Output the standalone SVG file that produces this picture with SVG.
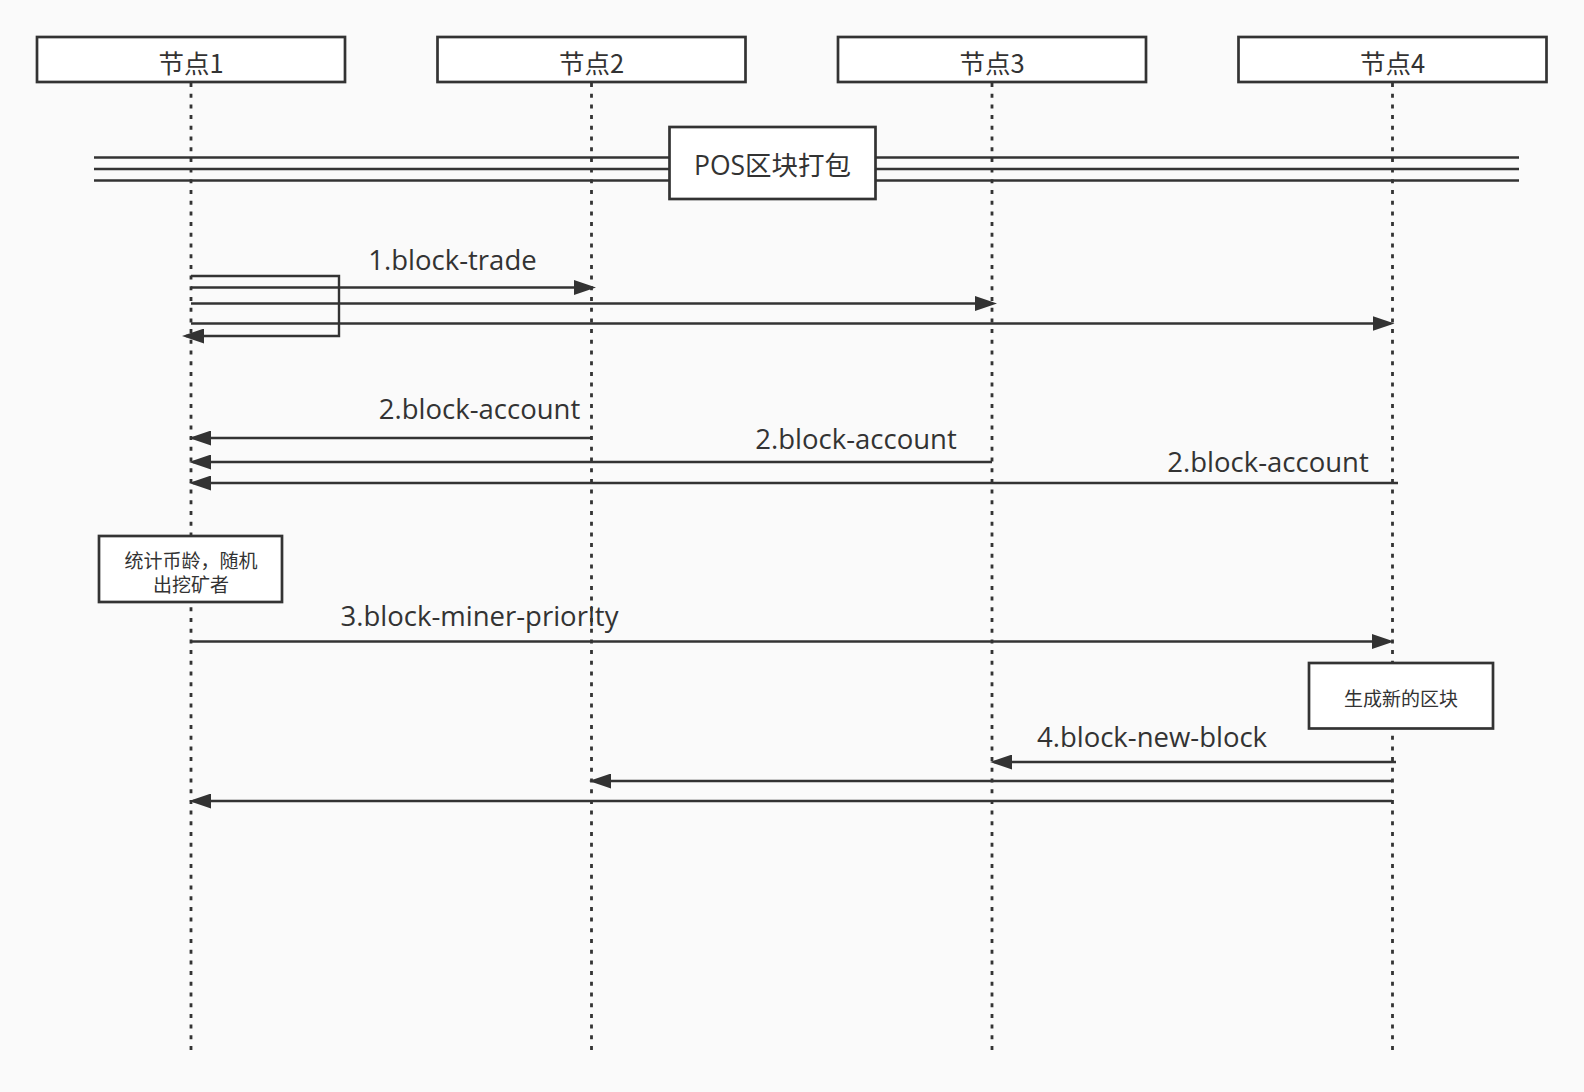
<svg xmlns="http://www.w3.org/2000/svg" width="1584" height="1092" viewBox="0 0 1584 1092">
  <defs>
    <style>
      .bg { fill: #fafafa; }
      .box { fill: #ffffff; stroke: #333333; stroke-width: 2.7; }
      .life { stroke: #333333; stroke-width: 2.8; stroke-dasharray: 4 6.7; fill: none; }
      .bar { stroke: #333333; stroke-width: 2.4; fill: none; }
      .msg { stroke: #333333; stroke-width: 2.4; fill: none; marker-end: url(#head); }
      .head-txt { font-family: "Noto Sans CJK SC", "Open Sans", sans-serif; font-size: 25.5px; fill: #333333; text-anchor: middle; }
      .title-txt { font-family: "Open Sans", "Noto Sans CJK SC", sans-serif; font-size: 26.5px; fill: #333333; text-anchor: middle; }
      .lbl { font-family: "Open Sans", "Noto Sans CJK SC", sans-serif; font-size: 27.5px; fill: #333333; text-anchor: middle; }
      .note-txt { font-family: "Noto Sans CJK SC", sans-serif; font-size: 19px; fill: #333333; text-anchor: middle; }
    </style>
    <marker id="head" markerUnits="userSpaceOnUse" markerWidth="22" markerHeight="15" refX="18" refY="7.5" orient="auto" viewBox="0 0 22 15">
      <path d="M0,0 L22,7.5 L0,15 Z" fill="#333333"/>
    </marker>
  </defs>

  <rect class="bg" x="0" y="0" width="1584" height="1092"/>

  <!-- lifelines -->
  <g id="lifelines">
    <line class="life" x1="191" y1="83" x2="191" y2="1053"/>
    <line class="life" x1="591.5" y1="83" x2="591.5" y2="1053"/>
    <line class="life" x1="992" y1="83" x2="992" y2="1053"/>
    <line class="life" x1="1392.5" y1="83" x2="1392.5" y2="1053"/>
  </g>

  <!-- participants -->
  <g id="node1">
    <rect class="box" x="37" y="37" width="308" height="45"/>
    <text class="head-txt" x="191" y="73">节点1</text>
  </g>
  <g id="node2">
    <rect class="box" x="437.5" y="37" width="308" height="45"/>
    <text class="head-txt" x="591.5" y="73">节点2</text>
  </g>
  <g id="node3">
    <rect class="box" x="838" y="37" width="308" height="45"/>
    <text class="head-txt" x="992" y="73">节点3</text>
  </g>
  <g id="node4">
    <rect class="box" x="1238.5" y="37" width="308" height="45"/>
    <text class="head-txt" x="1392.5" y="73">节点4</text>
  </g>

  <!-- section divider -->
  <g id="divider">
    <line class="bar" x1="94" y1="157.5" x2="1519" y2="157.5"/>
    <line class="bar" x1="94" y1="169" x2="1519" y2="169"/>
    <line class="bar" x1="94" y1="180.5" x2="1519" y2="180.5"/>
    <rect class="box" x="669.5" y="127" width="206" height="72"/>
    <text class="title-txt" x="772.5" y="175">POS区块打包</text>
  </g>

  <!-- messages -->
  <g id="connectors">
    <polyline class="msg" points="191,276 339,276 339,336 186,336"/>
    <line class="msg" x1="191" y1="287.5" x2="592" y2="287.5"/>
    <line class="msg" x1="191" y1="303.5" x2="993" y2="303.5"/>
    <line class="msg" x1="191" y1="323.5" x2="1390.5" y2="323.5"/>

    <line class="msg" x1="591" y1="438" x2="193" y2="438"/>
    <line class="msg" x1="992" y1="462" x2="193" y2="462"/>
    <line class="msg" x1="1398" y1="483" x2="193" y2="483"/>

    <line class="msg" x1="191" y1="641.5" x2="1390" y2="641.5"/>

    <line class="msg" x1="1396" y1="762" x2="994" y2="762"/>
    <line class="msg" x1="1392" y1="781" x2="593" y2="781"/>
    <line class="msg" x1="1392" y1="801" x2="193" y2="801"/>
  </g>

  <!-- message labels -->
  <g id="labels">
    <text class="lbl" x="452.5" y="270">1.block-trade</text>
    <text class="lbl" x="479.5" y="419">2.block-account</text>
    <text class="lbl" x="856" y="448.5">2.block-account</text>
    <text class="lbl" x="1268" y="471.5">2.block-account</text>
    <text class="lbl" x="479.5" y="626">3.block-miner-priority</text>
    <text class="lbl" x="1152" y="746.5">4.block-new-block</text>
  </g>

  <!-- activity notes -->
  <g id="note-miner">
    <rect class="box" x="99" y="536" width="183" height="66"/>
    <text class="note-txt" x="191" y="567.5">统计币龄，随机</text>
    <text class="note-txt" x="191" y="591.5">出挖矿者</text>
  </g>
  <g id="note-block">
    <rect class="box" x="1309" y="663" width="184" height="65.5"/>
    <text class="note-txt" x="1401" y="705.5">生成新的区块</text>
  </g>
</svg>
